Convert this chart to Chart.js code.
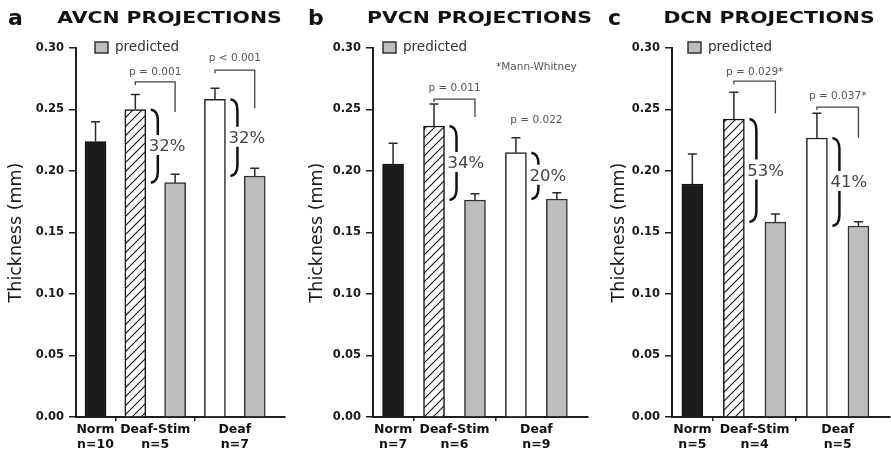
<!DOCTYPE html>
<html>
<head>
<meta charset="utf-8">
<script src="https://cdn.jsdelivr.net/npm/chart.js@4.4.1/dist/chart.umd.min.js"></script>
<style>
  html, body { margin: 0; padding: 0; background: #fff; }
  #wrap { position: relative; width: 891px; height: 451px; overflow: hidden; }
  #wrap canvas { position: absolute; top: 0; }
</style>
</head>
<body>
<div id="wrap">
  <canvas id="panelA" width="295" height="451" style="left:0px"></canvas>
  <canvas id="panelB" width="299" height="451" style="left:301px"></canvas>
  <canvas id="panelC" width="288" height="451" style="left:603px"></canvas>
</div>
<script>
(function () {
  "use strict";

  // ----- Data -----
  const GROUPS = ["Norm", "Deaf-Stim", "Deaf"];
  const Y_MAX = 0.30;
  const Y_STEP = 0.05;

  // bars: Norm, Deaf-Stim, Deaf-Stim predicted, Deaf, Deaf predicted
  const N_A = ["n=10", "n=5", "n=7"];
  const MEAN_A = [0.224, 0.250, 0.1905, 0.2583, 0.1959];
  const SEM_A = [0.016, 0.0122, 0.0068, 0.0089, 0.0063];
  const P_TEXT_A = ["p = 0.001", "p < 0.001"];
  const P_Y_A = [0.2805, 0.292];
  const BRACKET_A = [0.2724, 0.282];
  const BRACKET_END_A = [0.248, 0.251];
  const PCT_A = ["32%", "32%"];

  const N_B = ["n=7", "n=6", "n=9"];
  const MEAN_B = [0.2057, 0.2366, 0.1764, 0.2149, 0.1772];
  const SEM_B = [0.0168, 0.0179, 0.0051, 0.0122, 0.0052];
  const P_TEXT_B = ["p = 0.011", "p = 0.022"];
  const P_Y_B = [0.2675, 0.2415];
  const BRACKET_B = [0.2585, null];
  const BRACKET_END_B = [0.244, null];
  const PCT_B = ["34%", "20%"];

  const N_C = ["n=5", "n=4", "n=5"];
  const MEAN_C = [0.1894, 0.2423, 0.1585, 0.2268, 0.1553];
  const SEM_C = [0.0244, 0.0217, 0.0065, 0.0202, 0.0035];
  const P_TEXT_C = ["p = 0.029*", "p = 0.037*"];
  const P_Y_C = [0.2805, 0.261];
  const BRACKET_C = [0.273, 0.252];
  const BRACKET_END_C = [0.247, 0.227];
  const PCT_C = ["53%", "41%"];

  // ----- Styles -----
  const AXIS = "#1e1e1e";
  const GRAY = "#bdbdbd";
  const FONT = "'DejaVu Sans', sans-serif";
  const X_MIN = -0.49;
  const X_MAX = 4.76;
  const X_MARKS = [0.5, 2.5];

  Chart.defaults.font.family = FONT;

  function makeHatch() {
    const s = 9;
    const c = document.createElement("canvas");
    c.width = s; c.height = s;
    const g = c.getContext("2d");
    g.fillStyle = "#fff";
    g.fillRect(0, 0, s, s);
    g.strokeStyle = "#111";
    g.lineWidth = 1.1;
    g.beginPath();
    g.moveTo(0, s); g.lineTo(s, 0);
    g.moveTo(-1, 1); g.lineTo(1, -1);
    g.moveTo(s - 1, s + 1); g.lineTo(s + 1, s - 1);
    g.stroke();
    return g.createPattern(c, "repeat");
  }

  const HATCH = makeHatch();
  const FILLS = ["#1c1c1c", HATCH, GRAY, "#ffffff", GRAY];
  const EDGES = ["#111", "#111", "#333", "#222", "#333"];

  function drawBrace(ctx, x, yTop, yBot, yMid) {
    const w = 7;
    ctx.beginPath();
    ctx.moveTo(x, yTop);
    ctx.quadraticCurveTo(x + w, yTop + 1, x + w, yTop + 11);
    ctx.lineTo(x + w, Math.max(yTop + 11, yMid - 11));
    ctx.moveTo(x + w, Math.min(yBot - 11, yMid + 9));
    ctx.lineTo(x + w, yBot - 11);
    ctx.quadraticCurveTo(x + w, yBot - 1, x, yBot);
    ctx.stroke();
  }

  const decor = {
    id: "decor",
    afterDatasetsDraw(chart, args, p) {
      // error bars (upper only)
      const ctx = chart.ctx;
      const y = chart.scales.y;
      const meta = chart.getDatasetMeta(0);
      ctx.save();
      ctx.strokeStyle = "#2a2a2a";
      ctx.lineWidth = 1.5;
      meta.data.forEach((bar, i) => {
        const top = y.getPixelForValue(p.means[i] + p.sems[i]);
        ctx.beginPath();
        ctx.moveTo(bar.x, bar.y);
        ctx.lineTo(bar.x, top);
        ctx.moveTo(bar.x - 4.5, top);
        ctx.lineTo(bar.x + 4.5, top);
        ctx.stroke();
      });
      ctx.restore();
    },
    afterDraw(chart, args, p) {
      const ctx = chart.ctx;
      const area = chart.chartArea;
      const x = chart.scales.x;
      const y = chart.scales.y;
      const bars = chart.getDatasetMeta(0).data;
      ctx.save();

      // panel letter + title
      ctx.fillStyle = "#111";
      ctx.textAlign = "left";
      ctx.textBaseline = "alphabetic";
      ctx.font = "bold 22px " + FONT;
      ctx.fillText(p.letter, p.letterX, 25);
      ctx.save();
      ctx.translate(p.titleX, 23);
      ctx.scale(1.36, 1);
      ctx.textAlign = "center";
      ctx.font = "bold 15px " + FONT;
      ctx.fillText(p.title, 0, 0);
      ctx.restore();

      // legend
      const lx = area.left + p.legendDx;
      ctx.fillStyle = GRAY;
      ctx.strokeStyle = "#333";
      ctx.lineWidth = 1.5;
      ctx.fillRect(lx, 42, 13, 11);
      ctx.strokeRect(lx, 42, 13, 11);
      ctx.fillStyle = "#333";
      ctx.font = "13.5px " + FONT;
      ctx.textBaseline = "middle";
      ctx.fillText("predicted", lx + 20, 47.5);

      // group labels
      ctx.fillStyle = "#111";
      ctx.textAlign = "center";
      ctx.font = "bold 12.5px " + FONT;
      const centers = [0, 1.5, 3.5];
      GROUPS.forEach((g, i) => {
        const cx = x.getPixelForValue(centers[i]);
        ctx.fillText(g, cx, area.bottom + 12.5);
        ctx.fillText(p.ns[i], cx, area.bottom + 28);
      });

      // p values, brackets, braces, percentages
      [[1, 2], [3, 4]].forEach(([a, b], k) => {
        const xa = bars[a].x, xb = bars[b].x;
        ctx.fillStyle = "#555";
        ctx.font = "10.5px " + FONT;
        ctx.textAlign = "center";
        ctx.fillText(p.pText[k], (xa + xb) / 2, y.getPixelForValue(p.pY[k]));
        if (p.bracket[k] !== null) {
          const by = y.getPixelForValue(p.bracket[k]);
          const be = y.getPixelForValue(p.bracketEnd[k]);
          ctx.strokeStyle = "#444";
          ctx.lineWidth = 1.3;
          ctx.beginPath();
          ctx.moveTo(xa, by + 3);
          ctx.lineTo(xa, by);
          ctx.lineTo(xb, by);
          ctx.lineTo(xb, be);
          ctx.stroke();
        }
        const yTop = y.getPixelForValue(p.means[a]);
        const yBot = y.getPixelForValue(p.means[b]);
        const yMid = (yTop + yBot) / 2;
        const right = xa + bars[a].width / 2;
        ctx.strokeStyle = "#111";
        ctx.lineWidth = 2.5;
        drawBrace(ctx, right + 5, yTop, yBot, yMid);
        ctx.fillStyle = "#444";
        ctx.font = "16.5px " + FONT;
        ctx.textAlign = "left";
        ctx.fillText(p.pct[k], right + 3, yMid + 1);
      });

      if (p.note) {
        ctx.fillStyle = "#555";
        ctx.font = "10.5px " + FONT;
        ctx.textAlign = "center";
        ctx.fillText(p.note, x.getPixelForValue(3.5), y.getPixelForValue(0.2846));
      }
      ctx.restore();
    },
  };

  function buildPanel(id, p) {
    const bars = p.means.map((v, i) => ({ x: i, y: v }));
    return new Chart(document.getElementById(id), {
      type: "bar",
      data: {
        datasets: [{
          data: bars,
          backgroundColor: FILLS,
          borderColor: EDGES,
          borderWidth: 1.5,
          barThickness: 21,
        }],
      },
      options: {
        responsive: false,
        animation: false,
        layout: { padding: { top: 48, right: p.padRight, left: 0, bottom: 0 } },
        plugins: {
          legend: { display: false },
          tooltip: { enabled: false },
          decor: p,
        },
        scales: {
          x: {
            type: "linear",
            min: X_MIN,
            max: X_MAX,
            offset: false,
            afterBuildTicks: (a) => { a.ticks = X_MARKS.map((v) => ({ value: v })); },
            afterFit: (a) => { a.height = 34; },
            ticks: { display: false },
            grid: { drawOnChartArea: false, drawTicks: true, tickLength: 4, color: AXIS, lineWidth: 1.5, offset: false },
            border: { display: true, color: AXIS, width: 2 },
          },
          y: {
            min: 0,
            max: Y_MAX,
            afterFit: (a) => { a.width = p.axisWidth; },
            ticks: {
              stepSize: Y_STEP,
              callback: (v) => v.toFixed(2),
              font: { size: 11.5, weight: "bold" },
              color: "#1a1a1a",
              padding: 5,
            },
            grid: { drawOnChartArea: false, tickLength: 7, color: AXIS, lineWidth: 1.5 },
            border: { color: AXIS, width: 2 },
            title: {
              display: true,
              text: "Thickness (mm)",
              font: { size: 17.5 },
              color: "#1a1a1a",
              padding: { top: 6, bottom: 0 },
            },
          },
        },
      },
      plugins: [decor],
    });
  }

  buildPanel("panelA", {
    letter: "a", letterX: 8, title: "AVCN PROJECTIONS", titleX: 169.5,
    axisWidth: 76, padRight: 10, legendDx: 19,
    ns: N_A, means: MEAN_A, sems: SEM_A, pText: P_TEXT_A, pY: P_Y_A,
    bracket: BRACKET_A, bracketEnd: BRACKET_END_A, pct: PCT_A, note: "",
  });
  buildPanel("panelB", {
    letter: "b", letterX: 7, title: "PVCN PROJECTIONS", titleX: 178.5,
    axisWidth: 72, padRight: 12, legendDx: 10,
    ns: N_B, means: MEAN_B, sems: SEM_B, pText: P_TEXT_B, pY: P_Y_B,
    bracket: BRACKET_B, bracketEnd: BRACKET_END_B, pct: PCT_B, note: "*Mann-Whitney",
  });
  buildPanel("panelC", {
    letter: "c", letterX: 5, title: "DCN PROJECTIONS", titleX: 166,
    axisWidth: 69, padRight: 1, legendDx: 16,
    ns: N_C, means: MEAN_C, sems: SEM_C, pText: P_TEXT_C, pY: P_Y_C,
    bracket: BRACKET_C, bracketEnd: BRACKET_END_C, pct: PCT_C, note: "",
  });
})();
</script>
</body>
</html>
